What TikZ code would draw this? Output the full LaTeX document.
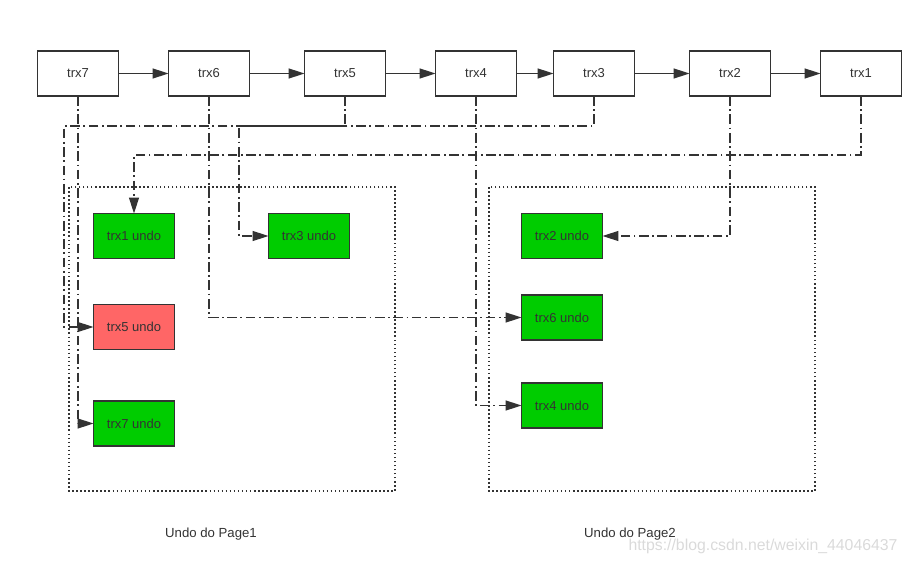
\documentclass[tikz,border=0pt]{standalone}
\usepackage{fontspec}
\setmainfont{Liberation Sans}
\usetikzlibrary{arrows.meta}
\tikzstyle{canvas} = [x = 0.02cm, y = -0.02cm]
\definecolor{lineColor}{RGB}{51,51,51}
\definecolor{undoGreen}{RGB}{0,204,0}
\definecolor{undoRed}{RGB}{255,102,102}
\definecolor{markColor}{RGB}{218,218,218}
\tikzstyle{trxBox} = [draw=lineColor, line width=1pt, fill=white, minimum width=1.62cm, minimum height=0.9cm, inner sep=0pt, outer sep=0pt, text=lineColor, font=\fontsize{7.4}{9}\selectfont]
\tikzstyle{undoBox} = [trxBox, fill=undoGreen]
\tikzstyle{undoBadBox} = [trxBox, fill=undoRed]
\tikzstyle{chainArrow} = [draw=lineColor, line width=0.85pt, -{Triangle[length=3.2mm, width=2mm]}]
\tikzstyle{undoLink} = [chainArrow, dash pattern={on 5.5pt off 2pt on 1pt off 2pt}]
\tikzstyle{pageFrame} = [draw=lineColor, line width=0.8pt, dash pattern={on 0.9pt off 1.4pt}]
\tikzstyle{pageText} = [text=lineColor, font=\fontsize{7.5}{9}\selectfont]

\begin{document}
\begin{tikzpicture}[canvas]
  \useasboundingbox (0,0) rectangle (909,564);

  % transactions
  \node [trxBox] (trx7) at (78,73.5) {trx7};
  \node [trxBox] (trx6) at (209,73.5) {trx6};
  \node [trxBox] (trx5) at (345,73.5) {trx5};
  \node [trxBox] (trx4) at (476,73.5) {trx4};
  \node [trxBox] (trx3) at (594,73.5) {trx3};
  \node [trxBox] (trx2) at (730,73.5) {trx2};
  \node [trxBox] (trx1) at (861,73.5) {trx1};
  \foreach \from/\to in {trx7/trx6, trx6/trx5, trx5/trx4, trx4/trx3, trx3/trx2, trx2/trx1}
    \draw [chainArrow] (\from) -- (\to);

  % undo pages
  \draw [pageFrame] (69,187) rectangle (395,491);
  \draw [pageFrame] (489,187) rectangle (815,491);
  \node [pageText] (page1) at (211,534) {Undo do Page1};
  \node [pageText] (page2) at (630,534) {Undo do Page2};

  \node [undoBox] (undo1) at (134,236) {trx1 undo};
  \node [undoBox] (undo3) at (309,236) {trx3 undo};
  \node [undoBadBox] (undo5) at (134,327) {trx5 undo};
  \node [undoBox] (undo7) at (134,423.5) {trx7 undo};
  \node [undoBox] (undo2) at (562,236) {trx2 undo};
  \node [undoBox] (undo6) at (562,317.5) {trx6 undo};
  \node [undoBox] (undo4) at (562,405.5) {trx4 undo};

  % undo pointers
  \draw [undoLink] (trx7.south) |- (undo7.west);
  \draw [undoLink] (trx6.south) |- (undo6.west);
  \draw [undoLink] (trx4.south) |- (undo4.west);
  \draw [undoLink] (trx2.south) |- (undo2.east);
  \draw [undoLink] (trx1.south) -- ++(0,59) -| (undo1.north);
  \draw [undoLink] (trx5.south) -- ++(0,30) -- ++(-281,0) |- (undo5.west);
  \draw [undoLink] (trx3.south) -- ++(0,30) -- ++(-355,0) |- (undo3.west);

  \node [text=markColor, font=\fontsize{9}{11}\selectfont] (mark) at (763,546) {https://blog.csdn.net/weixin\_44046437};
\end{tikzpicture}
\end{document}
